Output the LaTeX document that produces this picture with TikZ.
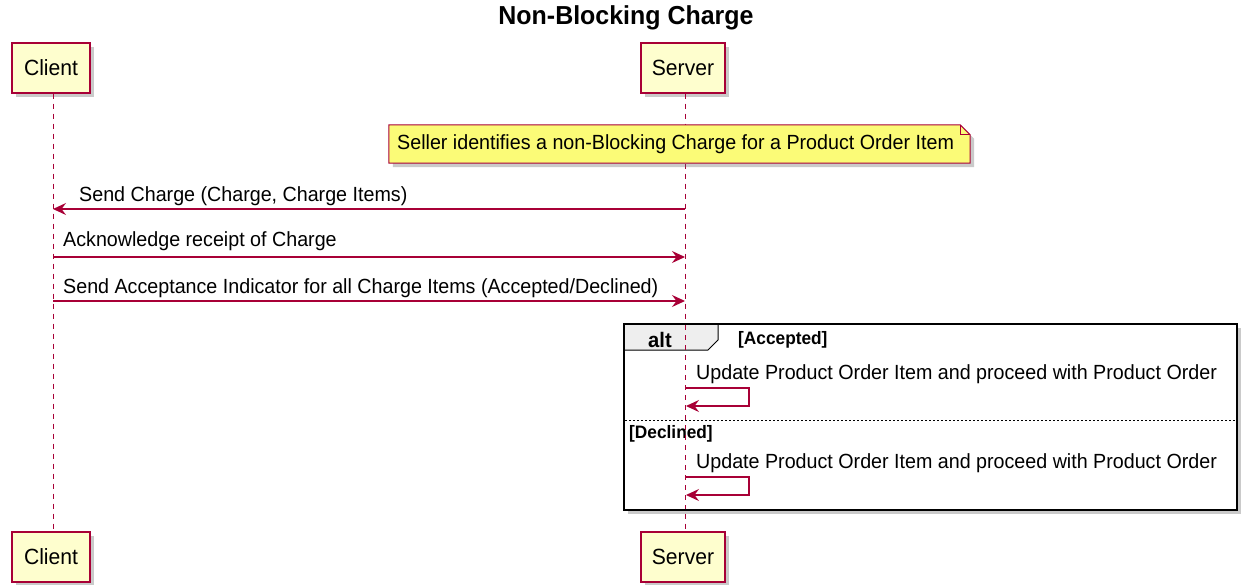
\documentclass[tikz,border=0pt]{standalone}
\usepackage{fontspec}
\setmainfont{Liberation Sans}
\newfontfamily\umlfont[FakeStretch=0.96]{Liberation Sans}
\usetikzlibrary{arrows.meta,calc,shadows}
\definecolor{pborder}{HTML}{A80036}
\definecolor{pfill}{HTML}{FEFECE}
\definecolor{nfill}{HTML}{FBFB77}
\definecolor{altfill}{HTML}{EEEEEE}
\tikzset{
  pshadow/.style={drop shadow={shadow xshift=4pt, shadow yshift=-4pt, opacity=0.35, fill=black!60}},
  participant/.style={draw=pborder, fill=pfill, line width=1.2pt, minimum height=50, inner sep=0pt, pshadow, font=\umlfont\fontsize{22}{25}\selectfont},
  lifeline/.style={draw=pborder, line width=1pt, dash pattern=on 5pt off 5pt},
  msg/.style={draw=pborder, line width=1.2pt, -{Stealth[length=13pt, width=12pt, inset=4.5pt]}},
  msglabel/.style={anchor=west, inner sep=0pt, font=\umlfont\fontsize{20.5}{23}\selectfont},
  notestyle/.style={draw=pborder, fill=nfill, line width=1pt, pshadow},
  guard/.style={anchor=west, inner sep=0pt, font=\umlfont\fontsize{18}{20}\selectfont\bfseries},
}
\begin{document}
\begin{tikzpicture}[x=1pt,y=-1pt]
\useasboundingbox (0,0) rectangle (1241,584);
% title
\node[font=\umlfont\fontsize{26}{29}\selectfont\bfseries] (title) at (626,18) {Non-Blocking Charge};
% participants
\node[participant, minimum width=78] (cTop) at (51,68) {Client};
\node[participant, minimum width=84] (sTop) at (683,68) {Server};
\node[participant, minimum width=78] (cBot) at (51,557) {Client};
\node[participant, minimum width=84] (sBot) at (683,557) {Server};
% lifelines
\draw[lifeline] (cTop.south -| 53,0) -- (cBot.north -| 53,0);
\draw[lifeline] (sTop.south -| 685,0) -- (sBot.north -| 685,0);
% note
\node[minimum width=581, minimum height=38, inner sep=0pt] (note) at (679.5,144) {};
\path[notestyle] (note.north west) -- ($(note.north east)+(-10,0)$) -- ($(note.north east)+(0,10)$) -- (note.south east) -- (note.south west) -- cycle;
\draw[draw=pborder, line width=1pt] ($(note.north east)+(-10,0)$) -- ($(note.north east)+(-10,10)$) -- ($(note.north east)+(0,10)$);
\node[msglabel] (notetext) at (397,144) {Seller identifies a non-Blocking Charge for a Product Order Item};
% messages
\coordinate (m1s) at (685,209); \coordinate (m1e) at (53,209);
\draw[msg] (m1s) -- (m1e);
\node[msglabel] (l1) at (79,196) {Send Charge (Charge, Charge Items)};
\coordinate (m2s) at (53,257); \coordinate (m2e) at (685,257);
\draw[msg] (m2s) -- (m2e);
\node[msglabel] (l2) at (63,241) {Acknowledge receipt of Charge};
\coordinate (m3s) at (53,301); \coordinate (m3e) at (685,301);
\draw[msg] (m3s) -- (m3e);
\node[msglabel] (l3) at (63,288) {Send Acceptance Indicator for all Charge Items (Accepted/Declined)};
% alt frame
\path[draw=black, line width=2.2pt, fill=white, pshadow] (624,324) rectangle (1237,510);
\draw[line width=1pt, fill=altfill] (624,324) -- (718,324) -- (718,340) -- (708,350) -- (624,350) -- cycle;
\draw[line width=2.2pt] (624,324) rectangle (1237,510);
\node[font=\umlfont\fontsize{21}{24}\selectfont\bfseries, inner sep=0pt] (alt) at (660,340) {alt};
\node[guard] (acc) at (738,340) {[Accepted]};
\draw[line width=0.8pt, dash pattern=on 2pt off 2pt] (625,420) -- (1236,420);
\node[guard] (dec) at (629,434) {[Declined]};
% lifeline segment inside frame
\draw[lifeline] (685,325) -- (685,509);
% self messages
\coordinate (s1a) at (685,388); \coordinate (s1b) at (749,388); \coordinate (s1c) at (749,406); \coordinate (s1d) at (686,406);
\draw[msg] (s1a) -- (s1b) -- (s1c) -- (s1d);
\node[msglabel] (u1) at (696,374) {Update Product Order Item and proceed with Product Order};
\coordinate (s2a) at (685,477); \coordinate (s2b) at (749,477); \coordinate (s2c) at (749,495); \coordinate (s2d) at (686,495);
\draw[msg] (s2a) -- (s2b) -- (s2c) -- (s2d);
\node[msglabel] (u2) at (696,463) {Update Product Order Item and proceed with Product Order};
\end{tikzpicture}
\end{document}
